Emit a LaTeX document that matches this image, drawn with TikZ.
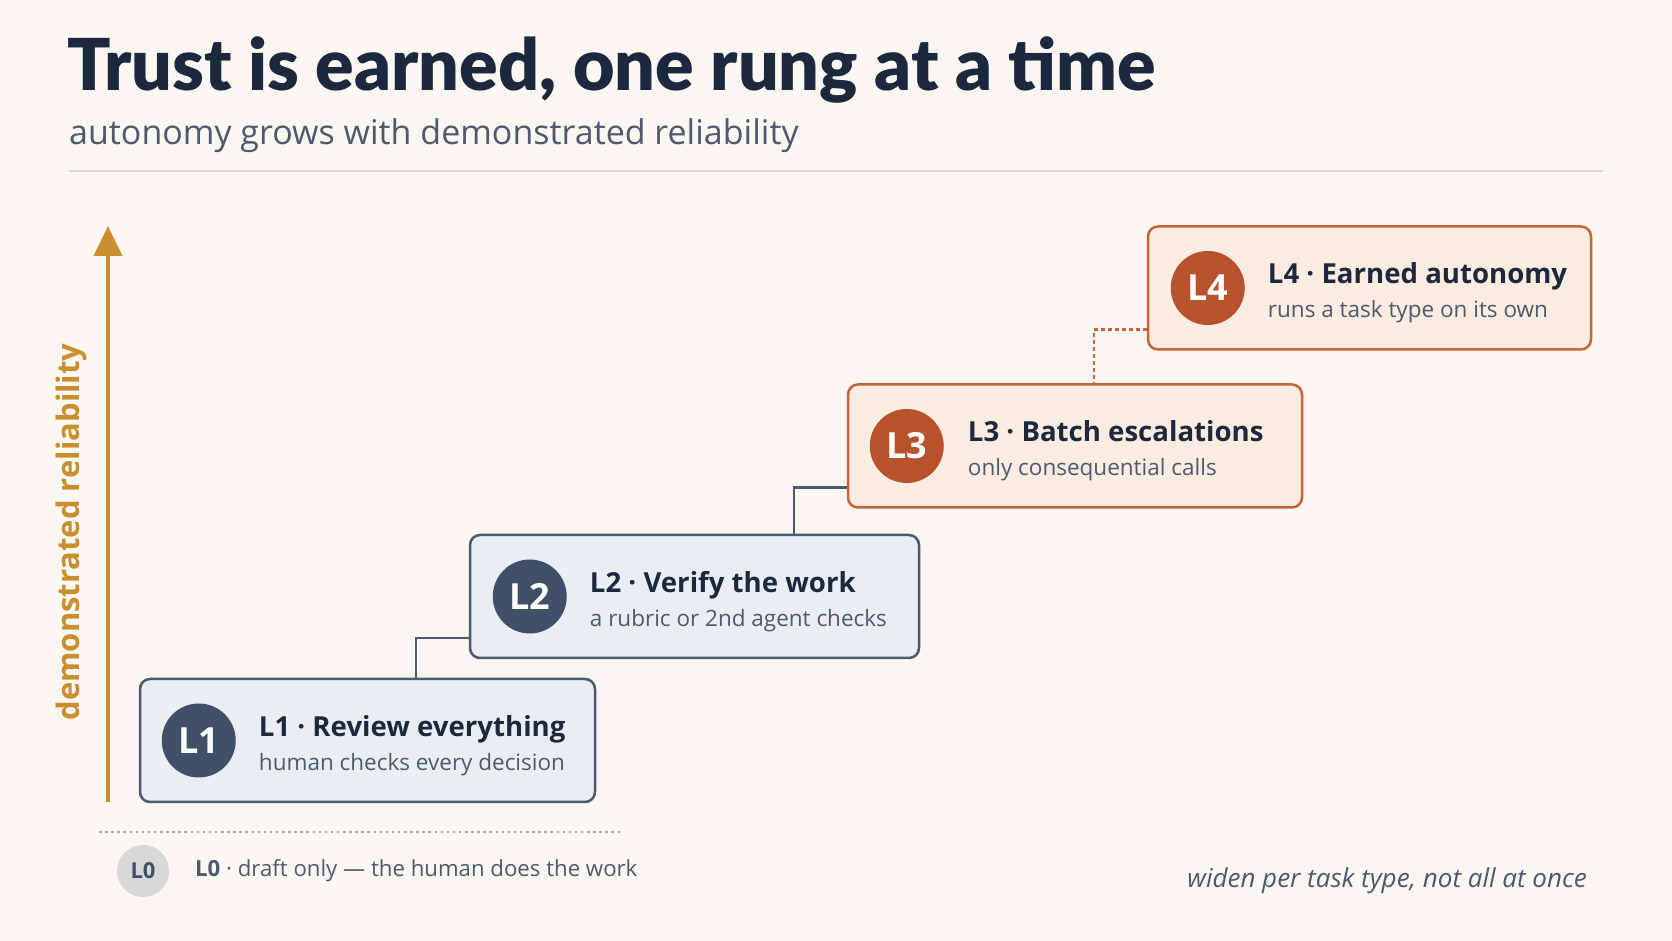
\documentclass[tikz,border=0pt]{standalone}
\usepackage{fontspec}
\setmainfont{Open Sans}
\newfontfamily\heavy{Lato Black}
\usetikzlibrary{arrows.meta}
\definecolor{paper}{HTML}{FAF7F2}
\definecolor{ink}{HTML}{1B283D}
\definecolor{slate}{HTML}{4D5A6E}
\definecolor{rule}{HTML}{D8D7D4}
\definecolor{gold}{HTML}{C98F2F}
\definecolor{mist}{HTML}{EAEEF3}
\definecolor{edge}{HTML}{4A5A70}
\definecolor{navy}{HTML}{3F5069}
\definecolor{peach}{HTML}{FCEBE0}
\definecolor{rust}{HTML}{C6643D}
\definecolor{brick}{HTML}{B8522D}
\definecolor{ash}{HTML}{D8D8D8}

\begin{document}
\begin{tikzpicture}[x=1pt, y=1pt,
  cool/.style={draw=edge, fill=mist, line width=2.5pt, rounded corners=10pt,
    minimum width=#1, minimum height=123pt, inner sep=0pt},
  warm/.style={cool=#1, draw=rust, fill=peach},
  badge/.style={circle, minimum size=74pt, inner sep=0pt, text=white,
    font=\fontsize{36}{40}\selectfont\bfseries},
  ttl/.style={anchor=base west, inner sep=0pt, text=ink,
    font=\fontsize{27.6}{32}\selectfont\bfseries},
  sub/.style={anchor=base west, inner sep=0pt, text=slate,
    font=\fontsize{22.5}{27}\selectfont},
  link/.style={draw=edge, line width=2.5pt},
  hop/.style={draw=rust, line width=2.5pt, dash pattern=on 4pt off 3pt}]
\fill[paper] (0,0) rectangle (1672,941);
\useasboundingbox (0,0) rectangle (1672,941);
% heading
\node[anchor=base west, inner sep=0pt, text=ink, font=\fontsize{71.6}{84}\selectfont\heavy]
  (head) at (67,850) {Trust is earned, one rung at a time};
\node[anchor=base west, inner sep=0pt, text=slate, font=\fontsize{34}{40}\selectfont]
  (tag) at (69,796) {autonomy grows with demonstrated reliability};
\draw[rule, line width=1.5pt] (69,770) -- (1603,770);
% axis
\coordinate (ax0) at (108,139);
\coordinate (ax1) at (108,715);
\draw[gold, line width=4pt, -{Triangle[width=28pt,length=30pt]}] (ax0) -- (ax1);
\node[rotate=90, text=gold, font=\fontsize{31}{36}\selectfont\bfseries] (axl) at (71,409)
  {demonstrated reliability};
% rungs
\node[cool=455pt] (r1) at (367.5,200.5) {};
\node[cool=449pt] (r2) at (694.5,344.5) {};
\node[warm=454pt] (r3) at (1075,495) {};
\node[warm=443pt] (r4) at (1369.5,653) {};
\node[badge, fill=navy] (b1) at ([xshift=60pt]r1.west) {L1};
\node[badge, fill=navy] (b2) at ([xshift=61pt]r2.west) {L2};
\node[badge, fill=brick] (b3) at ([xshift=60pt]r3.west) {L3};
\node[badge, fill=brick] (b4) at ([xshift=61pt]r4.west) {L4};
\node[ttl] (t1) at ([shift={(120pt,4pt)}]r1.west) {L1 · Review everything};
\node[sub] (s1) at ([shift={(120pt,-30pt)}]r1.west) {human checks every decision};
\node[ttl] (t2) at ([shift={(121pt,4pt)}]r2.west) {L2 · Verify the work};
\node[sub] (s2) at ([shift={(121pt,-30pt)}]r2.west) {a rubric or 2nd agent checks};
\node[ttl] (t3) at ([shift={(121pt,4pt)}]r3.west) {L3 · Batch escalations};
\node[sub] (s3) at ([shift={(121pt,-30pt)}]r3.west) {only consequential calls};
\node[ttl] (t4) at ([shift={(121pt,4pt)}]r4.west) {L4 · Earned autonomy};
\node[sub] (s4) at ([shift={(121pt,-30pt)}]r4.west) {runs a task type on its own};
% steps between rungs
\draw[link] ([yshift=21pt]r2.south west) -| ([xshift=-53pt]r2.west |- r1.north);
\draw[link] ([yshift=21pt]r3.south west) -| ([xshift=-53pt]r3.west |- r2.north);
\draw[hop] ([yshift=21pt]r4.south west) -| ([xshift=-53pt]r4.west |- r3.north);
% floor
\draw[gray!70, line width=2.5pt, dash pattern=on 2.5pt off 3.6pt] (99,109) -- (623,109);
\node[circle, fill=ash, minimum size=52pt, inner sep=0pt, text=navy,
  font=\fontsize{22}{26}\selectfont\bfseries] (b0) at (143,70) {L0};
\node[anchor=west, inner sep=0pt, text=slate, font=\fontsize{22.2}{26}\selectfont]
  (t0) at (195,70) {\textbf{L0} · draft only — the human does the work};
\node[anchor=east, inner sep=0pt, text=slate, font=\fontsize{26}{30}\selectfont\itshape]
  (foot) at (1587,60) {widen per task type, not all at once};
\end{tikzpicture}
\end{document}
